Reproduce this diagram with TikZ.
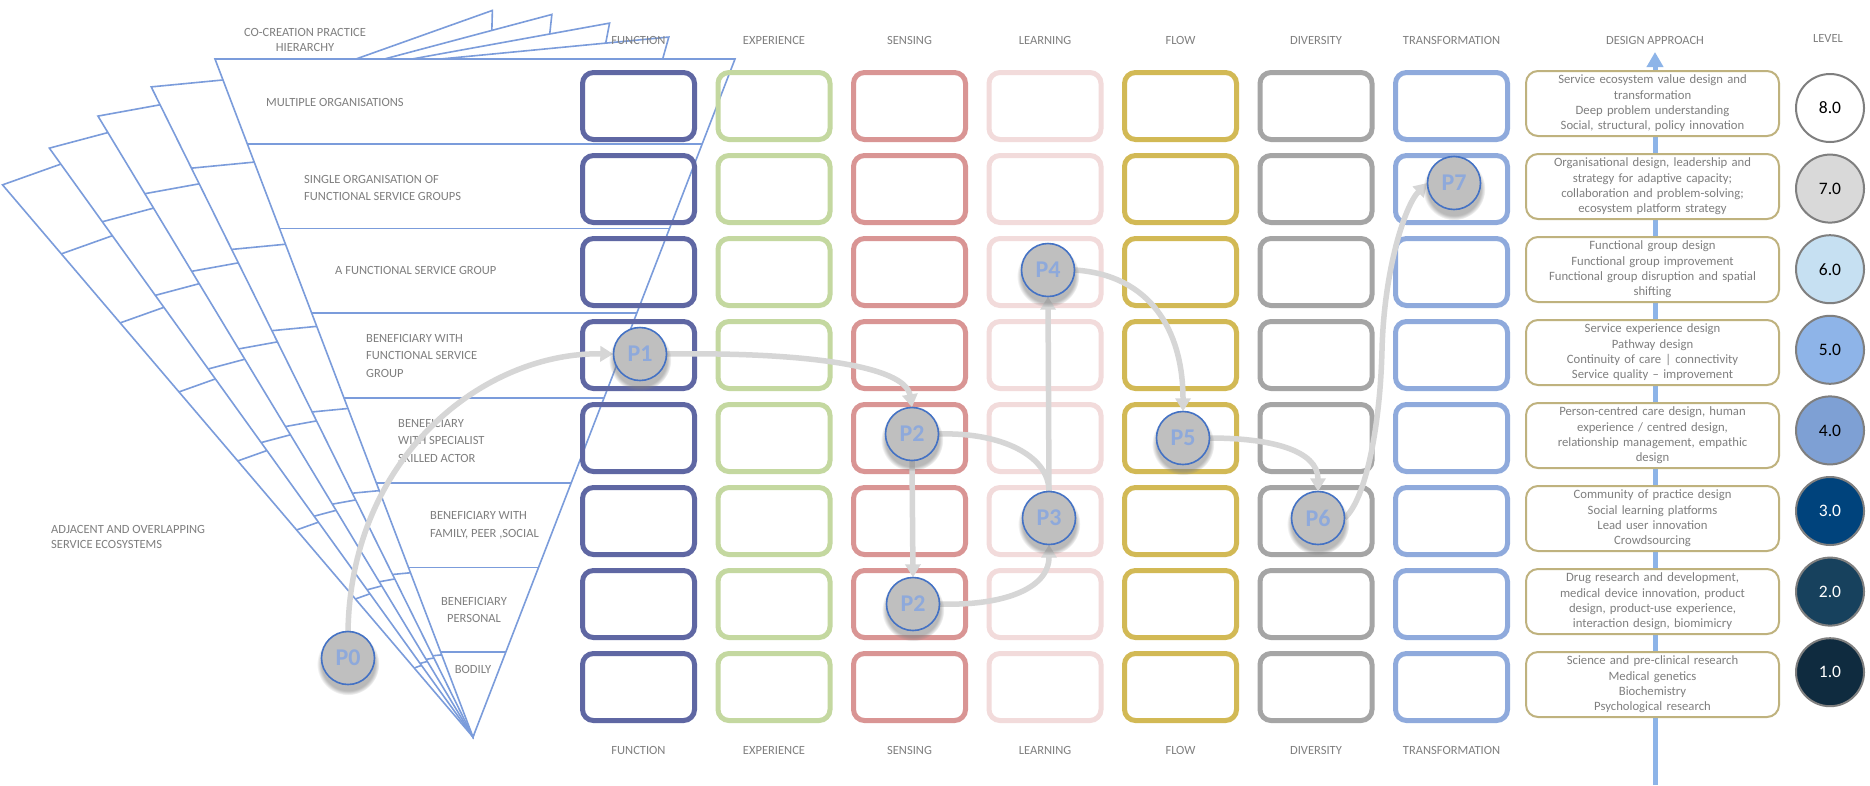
\documentclass[tikz,border=0pt]{standalone}
\usepackage{fontspec}
\setmainfont{Carlito}
\usetikzlibrary{arrows.meta,shadows,calc,fadings}
\definecolor{cfun}{HTML}{5F67A3}
\definecolor{cexp}{HTML}{C4D8A0}
\definecolor{csen}{HTML}{D99594}
\definecolor{clea}{HTML}{F2DBDB}
\definecolor{cflo}{HTML}{D2B955}
\definecolor{cdiv}{HTML}{A5A5A5}
\definecolor{ctra}{HTML}{8FAADC}
\definecolor{funl}{HTML}{7B9CDB}
\definecolor{txtg}{HTML}{7F7F7F}
\definecolor{dab}{HTML}{BFB27E}
\definecolor{daarrow}{HTML}{8DB4E8}
\definecolor{arrg}{HTML}{D6D6D6}
\definecolor{levb}{HTML}{7F7F7F}
\definecolor{pbd}{HTML}{4472C4}
\definecolor{pfill}{HTML}{BFBFBF}
\definecolor{ptxt}{HTML}{8EA9DB}
\definecolor{lvA}{HTML}{FFFFFF}
\definecolor{lvB}{HTML}{D9D9D9}
\definecolor{lvC}{HTML}{C6E0F2}
\definecolor{lvD}{HTML}{8EB4E8}
\definecolor{lvE}{HTML}{7EA0D4}
\definecolor{lvF}{HTML}{00437C}
\definecolor{lvG}{HTML}{17415D}
\definecolor{lvH}{HTML}{0F2B3F}
\begin{document}
\begin{tikzpicture}[x=1pt,y=1pt,
  fl/.style={draw=funl,line width=1.6pt},
  lbl/.style={text=txtg,font=\fontsize{12.5}{17.5}\selectfont,inner sep=0pt},
  hdr/.style={text=txtg,font=\fontsize{12.5}{15}\selectfont,inner sep=0pt},
  gbox/.style={draw=#1,line width=5pt,rounded corners=11pt,minimum width=112pt,minimum height=67pt,inner sep=0pt},
  dabox/.style={draw=dab,line width=2pt,rounded corners=12pt,fill=white,minimum width=253pt,minimum height=65pt,text width=250pt,align=center,inner sep=0pt,text=txtg,font=\fontsize{12.7}{15.3}\selectfont},
  lev/.style={circle,draw=levb,line width=2pt,minimum size=68pt,inner sep=0pt,font=\fontsize{17.5}{20}\selectfont},
  pn/.style={circle,draw=pbd,line width=1.6pt,fill=pfill,minimum size=53pt,inner sep=0pt,text=ptxt,font=\bfseries\fontsize{24}{28}\selectfont,circular drop shadow={shadow xshift=0pt,shadow yshift=-5pt,shadow scale=1.18,opacity=0.55}},
  flow/.style={draw=arrg,line width=5.5pt,-{Triangle[length=13pt,width=15pt]}},
  flowplain/.style={draw=arrg,line width=5.5pt},
]
\useasboundingbox (0,0) rectangle (1870,-785);
\fill[white] (0,0) rectangle (1870,-785);

% fan of hierarchy funnels
\foreach \a in {19.6,14.9,10.3,5.5,0}{
  \begin{scope}[rotate around={\a:(473,-737)}]
    \filldraw[fl,fill=white] (215,-59) -- (735,-59) -- (473,-737) -- cycle;
    \foreach \k in {1,...,7}{
      \draw[fl] ({215+32.25*\k},{-59-84.75*\k}) -- ({735-32.75*\k},{-59-84.75*\k});
    }
  \end{scope}
}

% hierarchy labels
\node[hdr,align=center] (lcoc) at (305,-39.5) {CO-CREATION PRACTICE\\HIERARCHY};
\node[lbl,anchor=west] (l8) at (266,-102) {MULTIPLE ORGANISATIONS};
\node[lbl,anchor=west,align=left] (l7) at (304,-188) {SINGLE ORGANISATION OF\\FUNCTIONAL SERVICE GROUPS};
\node[lbl,anchor=west] (l6) at (335,-270) {A FUNCTIONAL SERVICE GROUP};
\node[lbl,anchor=west,align=left] (l5) at (366,-355.5) {BENEFICIARY WITH\\FUNCTIONAL SERVICE\\GROUP};
\node[lbl,anchor=west,align=left] (l4) at (398,-440.5) {BENEFICIARY\\WITH SPECIALIST\\SKILLED ACTOR};
\node[lbl,anchor=west,align=left] (l3) at (430,-525) {BENEFICIARY WITH\\FAMILY, PEER ,SOCIAL};
\node[lbl,align=center] (l2) at (474,-610) {BENEFICIARY\\PERSONAL};
\node[lbl] (l1) at (473,-669) {BODILY};
\node[hdr,anchor=west,align=left] (ladj) at (51,-536.5) {ADJACENT AND OVERLAPPING\\SERVICE ECOSYSTEMS};

% grid of boxes
\foreach \c/\col/\name in {0/cfun/FUNCTION,1/cexp/EXPERIENCE,2/csen/SENSING,3/clea/LEARNING,4/cflo/FLOW,5/cdiv/DIVERSITY,6/ctra/TRANSFORMATION}{
  \foreach \r in {0,...,7}{
    \node[gbox=\col] (b\c-\r) at ({638.5+135.5*\c},{-106-83*\r}) {};
  }
  \node[hdr] (ht\c) at ({638.5+135.5*\c},-40) {\name};
  \node[hdr] (hb\c) at ({638.5+135.5*\c},-750) {\name};
}

% design approach column
\coordinate (dabot) at (1655,-785);
\coordinate (datop) at (1655,-52);
\draw[draw=daarrow,line width=5pt,-{Triangle[length=15pt,width=16pt]}] (dabot) -- (datop);
\node[hdr] (hda) at (1655,-40) {DESIGN APPROACH};
\node[hdr] (hlev) at (1828,-38) {LEVEL};

\node[dabox] (da8) at (1652.5,-103.5) {Service ecosystem value design and\\transformation\\Deep problem understanding\\Social, structural, policy innovation};
\node[dabox] (da7) at (1652.5,-186.5) {Organisational design, leadership and\\strategy for adaptive capacity;\\collaboration and problem-solving;\\ecosystem platform strategy};
\node[dabox] (da6) at (1652.5,-269.5) {Functional group design\\Functional group improvement\\Functional group disruption and spatial\\shifting};
\node[dabox] (da5) at (1652.5,-352.5) {Service experience design\\Pathway design\\Continuity of care | connectivity\\Service quality -- improvement};
\node[dabox] (da4) at (1652.5,-435.5) {Person-centred care design, human\\experience / centred design,\\relationship management, empathic\\design};
\node[dabox] (da3) at (1652.5,-518.5) {Community of practice design\\Social learning platforms\\Lead user innovation\\Crowdsourcing};
\node[dabox] (da2) at (1652.5,-601.5) {Drug research and development,\\medical device innovation, product\\design, product-use experience,\\interaction design, biomimicry};
\node[dabox] (da1) at (1652.5,-684.5) {Science and pre-clinical research\\Medical genetics\\Biochemistry\\Psychological research};

\node[lev,fill=lvA,text=black] (lv8) at (1830,-108) {8.0};
\node[lev,fill=lvB,text=black] (lv7) at (1830,-188.6) {7.0};
\node[lev,fill=lvC,text=black] (lv6) at (1830,-269.2) {6.0};
\node[lev,fill=lvD,text=black] (lv5) at (1830,-349.8) {5.0};
\node[lev,fill=lvE,text=black] (lv4) at (1830,-430.4) {4.0};
\node[lev,fill=lvF,text=white] (lv3) at (1830,-511) {3.0};
\node[lev,fill=lvG,text=white] (lv2) at (1830,-591.6) {2.0};
\node[lev,fill=lvH,text=white] (lv1) at (1830,-672.2) {1.0};

% pathway points
\path (348,-658) coordinate (c0) (640,-354) coordinate (c1)
      (912,-434) coordinate (c2a) (913,-604) coordinate (c2b)
      (1049,-518) coordinate (c3) (1048,-270) coordinate (c4)
      (1183,-438) coordinate (c5) (1318,-518) coordinate (c6)
      (1454,-183) coordinate (c7);
\begin{scope}[every node/.style={circle,minimum size=53pt,inner sep=0pt}]
  \node (q0) at (c0) {}; \node (q1) at (c1) {}; \node (q2a) at (c2a) {};
  \node (q2b) at (c2b) {}; \node (q3) at (c3) {}; \node (q4) at (c4) {};
  \node (q5) at (c5) {}; \node (q6) at (c6) {}; \node (q7) at (c7) {};
\end{scope}

% connectors
\draw[flow] (q0.north) .. controls (351,-455) and (485,-352) .. (q1.west);
\draw[flow] (q1.east) .. controls (800,-352) and (905,-365) .. (q2a.north);
\draw[flow] (q2a.south) -- (q2b.north);
\draw[flowplain] (q2a.east) .. controls (1000,-432) and (1049,-455) .. (q3.north);
\draw[flow] (q2b.east) .. controls (1000,-606) and (1049,-590) .. (q3.south);
\draw[flow] (q3.north) -- (q4.south);
\draw[flow] (q4.east) .. controls (1150,-275) and (1183,-330) .. (q5.north);
\draw[flow] (q5.east) .. controls (1270,-438) and (1318,-450) .. (q6.north);
\draw[flow] (q6.east) .. controls (1365,-500) and (1380,-430) .. (1382,-350)
            .. controls (1384,-270) and (1405,-205) .. (q7.west);

% pathway circles
\node[pn] (p0) at (c0) {P0};
\node[pn] (p1) at (c1) {P1};
\node[pn] (p2a) at (c2a) {P2};
\node[pn] (p2b) at (c2b) {P2};
\node[pn] (p3) at (c3) {P3};
\node[pn] (p4) at (c4) {P4};
\node[pn] (p5) at (c5) {P5};
\node[pn] (p6) at (c6) {P6};
\node[pn] (p7) at (c7) {P7};
\end{tikzpicture}
\end{document}
